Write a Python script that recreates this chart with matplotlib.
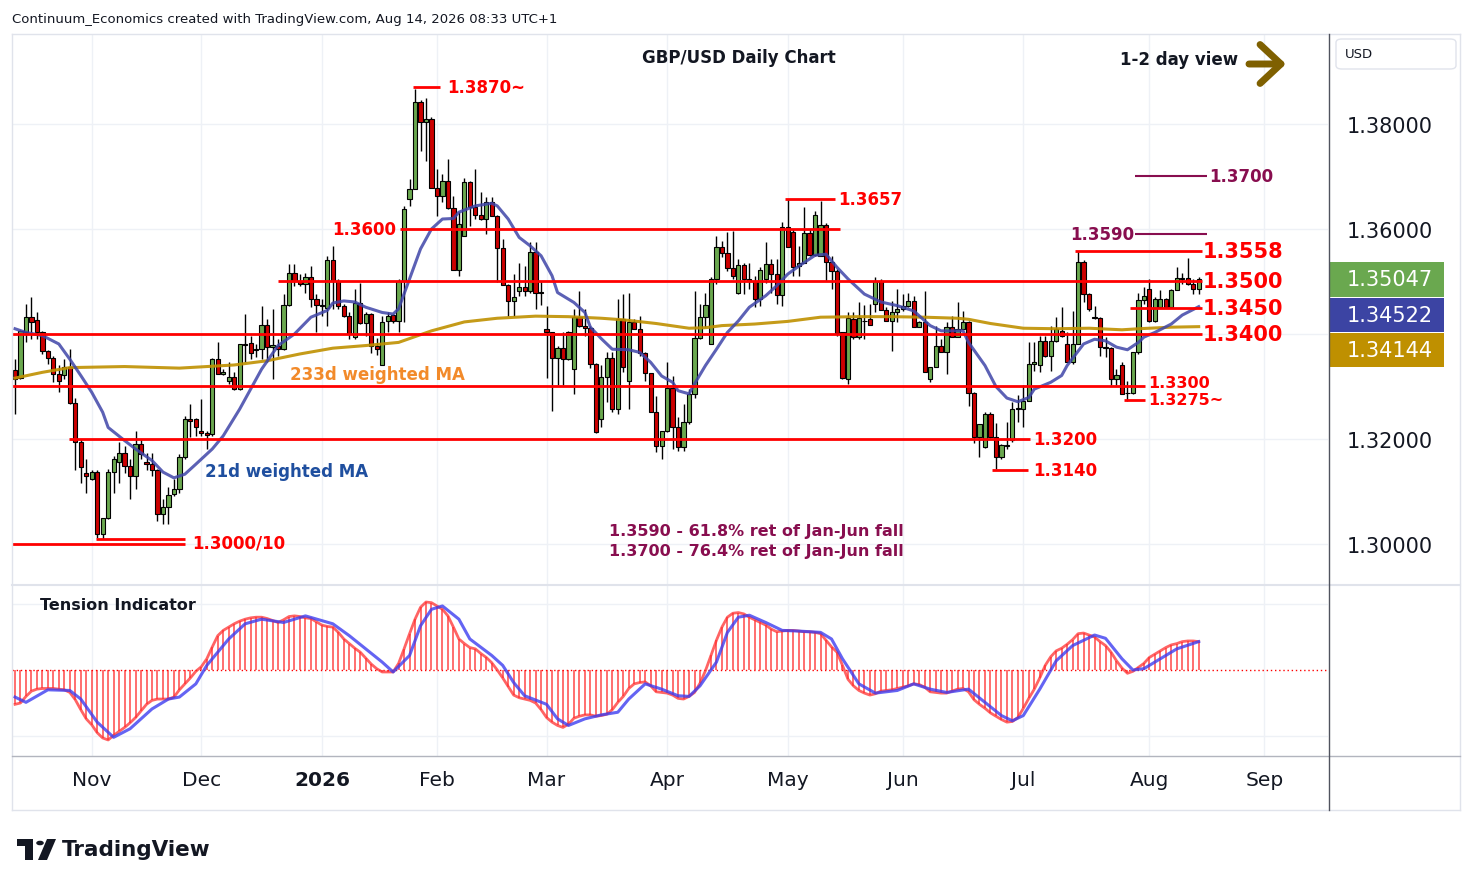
import numpy as np
import pandas as pd
import matplotlib
matplotlib.use('Agg')
import matplotlib.pyplot as plt
from matplotlib.patches import Rectangle, FancyBboxPatch, Circle, Polygon
from matplotlib.lines import Line2D

W, H = 1474, 887

# FX daily calendar (no bars on Dec 25 / Jan 1)
days = pd.bdate_range('2025-10-14', '2026-09-30')
days = days[~days.isin(pd.to_datetime(['2025-12-25', '2026-01-01']))]

opens = [1.3331, 1.3316, 1.3403, 1.3432, 1.3427, 1.3403, 1.3367, 1.3354, 1.3324, 1.3321,
         1.3337, 1.3269, 1.3194, 1.3135, 1.3124, 1.3138, 1.3019, 1.3049, 1.3138, 1.3156,
         1.3173, 1.3148, 1.3130, 1.3190, 1.3157, 1.3152, 1.3140, 1.3057, 1.3070, 1.3095,
         1.3105, 1.3165, 1.3238, 1.3238, 1.3216, 1.3212, 1.3209, 1.3352, 1.3323, 1.3311,
         1.3319, 1.3295, 1.3380, 1.3382, 1.3372, 1.3371, 1.3418, 1.3375, 1.3378, 1.3371,
         1.3456, 1.3516, 1.3501, 1.3495, 1.3508, 1.3467, 1.3456, 1.3449, 1.3540, 1.3500,
         1.3454, 1.3434, 1.3394, 1.3459, 1.3420, 1.3438, 1.3378, 1.3341, 1.3424, 1.3436,
         1.3424, 1.3500, 1.3657, 1.3676, 1.3841, 1.3803, 1.3810, 1.3679, 1.3662, 1.3692,
         1.3640, 1.3522, 1.3586, 1.3689, 1.3641, 1.3627, 1.3619, 1.3651, 1.3625, 1.3563,
         1.3494, 1.3462, 1.3482, 1.3490, 1.3482, 1.3557, 1.3480, 1.3410, 1.3403, 1.3354,
         1.3373, 1.3352, 1.3333, 1.3432, 1.3416, 1.3411, 1.3343, 1.3238, 1.3319, 1.3354,
         1.3257, 1.3429, 1.3311, 1.3422, 1.3410, 1.3363, 1.3326, 1.3251, 1.3187, 1.3216,
         1.3298, 1.3222, 1.3184, 1.3232, 1.3286, 1.3392, 1.3432, 1.3381, 1.3505, 1.3565,
         1.3555, 1.3525, 1.3479, 1.3531, 1.3505, 1.3501, 1.3467, 1.3505, 1.3533, 1.3515,
         1.3474, 1.3603, 1.3594, 1.3529, 1.3536, 1.3592, 1.3550, 1.3549, 1.3608, 1.3538,
         1.3520, 1.3403, 1.3315, 1.3429, 1.3394, 1.3425, 1.3429, 1.3457, 1.3501, 1.3446,
         1.3425, 1.3442, 1.3447, 1.3454, 1.3463, 1.3414, 1.3422, 1.3315, 1.3337, 1.3378,
         1.3366, 1.3414, 1.3394, 1.3410, 1.3423, 1.3287, 1.3203, 1.3184, 1.3247, 1.3203,
         1.3165, 1.3187, 1.3199, 1.3257, 1.3257, 1.3273, 1.3343, 1.3340, 1.3387, 1.3359,
         1.3387, 1.3406, 1.3381, 1.3346, 1.3381, 1.3538, 1.3476, 1.3432, 1.3430, 1.3375,
         1.3373, 1.3314, 1.3340, 1.3288, 1.3288, 1.3365, 1.3465, 1.3486, 1.3425, 1.3452,
         1.3467, 1.3452, 1.3484, 1.3506, 1.3506, 1.3495, 1.3486]
highs = [1.3352, 1.3408, 1.3457, 1.3470, 1.3441, 1.3405, 1.3369, 1.3359, 1.3340, 1.3352,
         1.3371, 1.3279, 1.3200, 1.3162, 1.3140, 1.3140, 1.3049, 1.3143, 1.3168, 1.3194,
         1.3187, 1.3162, 1.3216, 1.3200, 1.3174, 1.3174, 1.3142, 1.3086, 1.3108, 1.3124,
         1.3171, 1.3244, 1.3266, 1.3240, 1.3276, 1.3215, 1.3355, 1.3384, 1.3333, 1.3346,
         1.3327, 1.3381, 1.3438, 1.3397, 1.3381, 1.3454, 1.3429, 1.3448, 1.3390, 1.3476,
         1.3533, 1.3533, 1.3514, 1.3517, 1.3530, 1.3476, 1.3467, 1.3549, 1.3568, 1.3505,
         1.3457, 1.3441, 1.3486, 1.3497, 1.3441, 1.3440, 1.3392, 1.3435, 1.3441, 1.3438,
         1.3505, 1.3644, 1.3695, 1.3867, 1.3845, 1.3849, 1.3813, 1.3714, 1.3705, 1.3733,
         1.3663, 1.3632, 1.3698, 1.3692, 1.3714, 1.3670, 1.3660, 1.3660, 1.3627, 1.3581,
         1.3495, 1.3514, 1.3536, 1.3530, 1.3575, 1.3575, 1.3500, 1.3454, 1.3403, 1.3378,
         1.3403, 1.3405, 1.3448, 1.3482, 1.3448, 1.3416, 1.3345, 1.3340, 1.3365, 1.3365,
         1.3467, 1.3476, 1.3479, 1.3429, 1.3435, 1.3365, 1.3326, 1.3282, 1.3216, 1.3346,
         1.3320, 1.3241, 1.3267, 1.3295, 1.3482, 1.3457, 1.3479, 1.3508, 1.3587, 1.3578,
         1.3594, 1.3597, 1.3543, 1.3536, 1.3535, 1.3511, 1.3527, 1.3576, 1.3543, 1.3543,
         1.3613, 1.3657, 1.3600, 1.3568, 1.3641, 1.3600, 1.3635, 1.3653, 1.3612, 1.3549,
         1.3523, 1.3403, 1.3441, 1.3441, 1.3461, 1.3455, 1.3457, 1.3508, 1.3505, 1.3451,
         1.3463, 1.3486, 1.3476, 1.3479, 1.3472, 1.3424, 1.3482, 1.3338, 1.3416, 1.3390,
         1.3422, 1.3435, 1.3460, 1.3444, 1.3425, 1.3289, 1.3229, 1.3251, 1.3251, 1.3230,
         1.3190, 1.3232, 1.3270, 1.3283, 1.3302, 1.3384, 1.3384, 1.3397, 1.3397, 1.3416,
         1.3432, 1.3451, 1.3403, 1.3444, 1.3559, 1.3540, 1.3478, 1.3454, 1.3432, 1.3394,
         1.3375, 1.3333, 1.3346, 1.3311, 1.3365, 1.3479, 1.3489, 1.3505, 1.3470, 1.3484,
         1.3468, 1.3486, 1.3528, 1.3516, 1.3544, 1.3505, 1.3508]
lows = [1.3248, 1.3314, 1.3384, 1.3390, 1.3390, 1.3362, 1.3343, 1.3308, 1.3289, 1.3314,
        1.3267, 1.3140, 1.3117, 1.3098, 1.3122, 1.3012, 1.3010, 1.3048, 1.3098, 1.3117,
        1.3136, 1.3086, 1.3105, 1.3162, 1.3140, 1.3130, 1.3044, 1.3038, 1.3038, 1.3092,
        1.3098, 1.3162, 1.3203, 1.3206, 1.3206, 1.3181, 1.3206, 1.3324, 1.3321, 1.3305,
        1.3294, 1.3294, 1.3346, 1.3352, 1.3356, 1.3352, 1.3346, 1.3314, 1.3359, 1.3370,
        1.3454, 1.3492, 1.3492, 1.3479, 1.3451, 1.3403, 1.3435, 1.3416, 1.3448, 1.3448,
        1.3432, 1.3390, 1.3390, 1.3419, 1.3397, 1.3364, 1.3360, 1.3340, 1.3403, 1.3420,
        1.3403, 1.3422, 1.3644, 1.3676, 1.3749, 1.3730, 1.3679, 1.3625, 1.3651, 1.3638,
        1.3521, 1.3511, 1.3586, 1.3606, 1.3619, 1.3617, 1.3590, 1.3624, 1.3499, 1.3493,
        1.3435, 1.3435, 1.3473, 1.3473, 1.3479, 1.3448, 1.3456, 1.3317, 1.3254, 1.3302,
        1.3302, 1.3350, 1.3286, 1.3413, 1.3397, 1.3336, 1.3211, 1.3222, 1.3270, 1.3251,
        1.3247, 1.3327, 1.3257, 1.3410, 1.3359, 1.3311, 1.3251, 1.3176, 1.3162, 1.3214,
        1.3181, 1.3178, 1.3178, 1.3228, 1.3279, 1.3390, 1.3413, 1.3381, 1.3495, 1.3546,
        1.3520, 1.3505, 1.3476, 1.3476, 1.3486, 1.3451, 1.3454, 1.3498, 1.3479, 1.3457,
        1.3454, 1.3565, 1.3511, 1.3511, 1.3536, 1.3549, 1.3549, 1.3549, 1.3501, 1.3486,
        1.3396, 1.3314, 1.3305, 1.3390, 1.3390, 1.3390, 1.3418, 1.3441, 1.3445, 1.3425,
        1.3368, 1.3422, 1.3444, 1.3451, 1.3414, 1.3413, 1.3328, 1.3308, 1.3337, 1.3365,
        1.3324, 1.3394, 1.3394, 1.3410, 1.3263, 1.3193, 1.3165, 1.3183, 1.3201, 1.3142,
        1.3162, 1.3181, 1.3194, 1.3232, 1.3222, 1.3273, 1.3330, 1.3327, 1.3357, 1.3330,
        1.3384, 1.3394, 1.3346, 1.3343, 1.3381, 1.3460, 1.3444, 1.3429, 1.3359, 1.3357,
        1.3302, 1.3302, 1.3286, 1.3273, 1.3286, 1.3362, 1.3457, 1.3422, 1.3423, 1.3452,
        1.3451, 1.3451, 1.3484, 1.3495, 1.3494, 1.3476, 1.3476]
closes = [1.3314, 1.3406, 1.3432, 1.3422, 1.3403, 1.3367, 1.3354, 1.3324, 1.3310, 1.3337,
          1.3269, 1.3194, 1.3147, 1.3130, 1.3138, 1.3019, 1.3049, 1.3138, 1.3162, 1.3173,
          1.3148, 1.3130, 1.3190, 1.3171, 1.3152, 1.3140, 1.3057, 1.3070, 1.3093, 1.3105,
          1.3165, 1.3238, 1.3235, 1.3223, 1.3211, 1.3208, 1.3352, 1.3324, 1.3328, 1.3319,
          1.3295, 1.3380, 1.3379, 1.3363, 1.3370, 1.3418, 1.3376, 1.3379, 1.3371, 1.3456,
          1.3516, 1.3501, 1.3495, 1.3508, 1.3467, 1.3455, 1.3454, 1.3540, 1.3500, 1.3454,
          1.3434, 1.3400, 1.3459, 1.3420, 1.3438, 1.3378, 1.3372, 1.3422, 1.3435, 1.3424,
          1.3500, 1.3638, 1.3676, 1.3841, 1.3803, 1.3810, 1.3679, 1.3662, 1.3692, 1.3640,
          1.3522, 1.3609, 1.3689, 1.3641, 1.3627, 1.3619, 1.3651, 1.3625, 1.3563, 1.3494,
          1.3462, 1.3470, 1.3490, 1.3482, 1.3557, 1.3479, 1.3479, 1.3403, 1.3354, 1.3373,
          1.3352, 1.3403, 1.3432, 1.3416, 1.3411, 1.3343, 1.3213, 1.3319, 1.3354, 1.3257,
          1.3429, 1.3338, 1.3422, 1.3410, 1.3363, 1.3326, 1.3251, 1.3187, 1.3216, 1.3298,
          1.3222, 1.3184, 1.3232, 1.3286, 1.3392, 1.3432, 1.3455, 1.3505, 1.3565, 1.3555,
          1.3525, 1.3510, 1.3531, 1.3505, 1.3501, 1.3467, 1.3521, 1.3533, 1.3515, 1.3474,
          1.3603, 1.3565, 1.3528, 1.3536, 1.3592, 1.3550, 1.3627, 1.3608, 1.3538, 1.3520,
          1.3401, 1.3317, 1.3430, 1.3394, 1.3430, 1.3424, 1.3418, 1.3501, 1.3446, 1.3425,
          1.3442, 1.3447, 1.3453, 1.3463, 1.3414, 1.3422, 1.3328, 1.3337, 1.3378, 1.3366,
          1.3414, 1.3394, 1.3410, 1.3423, 1.3287, 1.3203, 1.3229, 1.3247, 1.3203, 1.3165,
          1.3189, 1.3189, 1.3257, 1.3259, 1.3273, 1.3343, 1.3346, 1.3387, 1.3359, 1.3386,
          1.3410, 1.3397, 1.3346, 1.3381, 1.3538, 1.3476, 1.3448, 1.3430, 1.3375, 1.3374,
          1.3314, 1.3321, 1.3286, 1.3287, 1.3365, 1.3465, 1.3473, 1.3425, 1.3467, 1.3467,
          1.3452, 1.3484, 1.3506, 1.3505, 1.3495, 1.3486, 1.3505]

# 21d weighted MA (blue) and 233d weighted MA (gold)
ma21_bars = [0, 2, 5, 8, 10, 12, 14, 16, 17, 20, 22, 25, 27, 29, 31, 33, 36, 38, 41, 45,
             48, 51, 54, 57, 58, 60, 62, 64, 67, 69, 70, 72, 74, 76, 78, 80, 81, 84, 87, 88,
             90, 92, 94, 96, 98, 99, 102, 104, 105, 107, 109, 112, 114, 116, 118, 120, 121, 123, 124, 126,
             128, 130, 132, 134, 137, 139, 141, 143, 144, 146, 148, 150, 152, 155, 158, 161, 164, 167, 169, 173,
             174, 177, 179, 181, 183, 185, 186, 189, 191, 192, 195, 197, 199, 201, 203, 205, 206, 208, 211, 213,
             216]
ma21_vals = [1.3410, 1.3403, 1.3397, 1.3381, 1.3352, 1.3321, 1.3289, 1.3251, 1.3222, 1.3197,
             1.3181, 1.3159, 1.3137, 1.3126, 1.3133, 1.3152, 1.3181, 1.3206, 1.3257, 1.3333,
             1.3378, 1.3400, 1.3432, 1.3445, 1.3459, 1.3463, 1.3461, 1.3451, 1.3441, 1.3438,
             1.3448, 1.3505, 1.3562, 1.3600, 1.3619, 1.3620, 1.3632, 1.3644, 1.3649, 1.3644,
             1.3619, 1.3584, 1.3568, 1.3549, 1.3511, 1.3479, 1.3460, 1.3441, 1.3413, 1.3391,
             1.3371, 1.3370, 1.3365, 1.3346, 1.3320, 1.3308, 1.3292, 1.3286, 1.3305, 1.3340,
             1.3371, 1.3403, 1.3425, 1.3451, 1.3473, 1.3492, 1.3514, 1.3529, 1.3536, 1.3550,
             1.3552, 1.3527, 1.3505, 1.3476, 1.3461, 1.3454, 1.3444, 1.3416, 1.3406, 1.3406,
             1.3384, 1.3340, 1.3300, 1.3278, 1.3271, 1.3279, 1.3295, 1.3308, 1.3321, 1.3340,
             1.3381, 1.3390, 1.3387, 1.3375, 1.3370, 1.3384, 1.3394, 1.3403, 1.3419, 1.3436,
             1.3452]
ma233_bars = [0, 5, 10, 20, 30, 40, 46, 52, 58, 64, 70, 76, 82, 88, 95, 101, 107, 111, 117, 123,
              126, 129, 135, 141, 147, 154, 160, 166, 172, 174, 178, 184, 190, 196, 202, 205, 211, 216]
ma233_vals = [1.3316, 1.3327, 1.3336, 1.3338, 1.3335, 1.3341, 1.3349, 1.3362, 1.3373, 1.3378,
              1.3384, 1.3406, 1.3423, 1.3430, 1.3434, 1.3433, 1.3430, 1.3427, 1.3420, 1.3411,
              1.3412, 1.3416, 1.3419, 1.3424, 1.3432, 1.3433, 1.3433, 1.3432, 1.3430, 1.3428,
              1.3420, 1.3411, 1.3410, 1.3411, 1.3408, 1.3410, 1.3413, 1.3414]

# Tension indicator (red, one value per bar) and its signal line (blue)
tension = [-0.52, -0.50, -0.40, -0.32, -0.29, -0.28, -0.28, -0.28, -0.29, -0.30,
           -0.34, -0.45, -0.60, -0.74, -0.83, -0.95, -1.03, -1.06, -0.99, -0.93,
           -0.87, -0.80, -0.72, -0.62, -0.52, -0.46, -0.44, -0.44, -0.44, -0.41,
           -0.30, -0.21, -0.12, -0.02, 0.05, 0.17, 0.35, 0.52, 0.60, 0.65,
           0.70, 0.74, 0.77, 0.79, 0.80, 0.80, 0.78, 0.75, 0.72, 0.76,
           0.81, 0.82, 0.81, 0.79, 0.78, 0.73, 0.68, 0.66, 0.65, 0.57,
           0.47, 0.40, 0.33, 0.27, 0.18, 0.09, 0.02, -0.03, -0.03, -0.03,
           0.10, 0.32, 0.55, 0.77, 0.95, 1.03, 1.02, 0.97, 0.92, 0.82,
           0.65, 0.47, 0.40, 0.34, 0.32, 0.25, 0.19, 0.11, 0.00, -0.12,
           -0.25, -0.38, -0.42, -0.44, -0.46, -0.50, -0.60, -0.72, -0.79, -0.84,
           -0.87, -0.82, -0.73, -0.70, -0.68, -0.68, -0.70, -0.69, -0.67, -0.60,
           -0.49, -0.40, -0.28, -0.21, -0.19, -0.18, -0.24, -0.33, -0.34, -0.35,
           -0.38, -0.43, -0.44, -0.40, -0.34, -0.20, -0.01, 0.22, 0.45, 0.65,
           0.80, 0.86, 0.87, 0.85, 0.80, 0.76, 0.72, 0.68, 0.62, 0.58,
           0.59, 0.60, 0.60, 0.59, 0.58, 0.58, 0.57, 0.55, 0.45, 0.35,
           0.27, 0.07, -0.14, -0.24, -0.31, -0.35, -0.38, -0.36, -0.32, -0.31,
           -0.30, -0.28, -0.26, -0.24, -0.21, -0.22, -0.26, -0.33, -0.34, -0.35,
           -0.35, -0.32, -0.29, -0.28, -0.33, -0.45, -0.52, -0.58, -0.65, -0.70,
           -0.75, -0.79, -0.78, -0.72, -0.58, -0.43, -0.29, -0.12, 0.07, 0.20,
           0.29, 0.33, 0.39, 0.46, 0.55, 0.56, 0.53, 0.50, 0.43, 0.37,
           0.27, 0.14, 0.03, -0.05, -0.02, 0.04, 0.10, 0.19, 0.24, 0.29,
           0.34, 0.38, 0.40, 0.43, 0.44, 0.44, 0.43]
sig_bars = [0, 2, 6, 10, 12, 15, 18, 21, 25, 28, 30, 33, 35, 39, 42, 45, 49, 53, 58, 61,
            64, 67, 69, 72, 74, 76, 78, 81, 83, 87, 89, 91, 93, 97, 99, 101, 104, 107, 110, 112,
            115, 118, 121, 123, 125, 128, 130, 132, 134, 137, 140, 143, 147, 149, 151, 154, 157, 161, 164, 167,
            170, 174, 177, 180, 182, 184, 187, 190, 193, 197, 199, 202, 204, 206, 209, 212, 216]
sig_vals = [-0.41, -0.49, -0.30, -0.31, -0.44, -0.79, -1.02, -0.89, -0.59, -0.44,
            -0.41, -0.21, 0.07, 0.47, 0.70, 0.77, 0.72, 0.82, 0.70, 0.52,
            0.32, 0.12, -0.03, 0.22, 0.67, 0.92, 0.97, 0.77, 0.47, 0.22,
            0.07, -0.19, -0.39, -0.52, -0.74, -0.84, -0.74, -0.68, -0.64, -0.44,
            -0.21, -0.29, -0.39, -0.40, -0.24, 0.12, 0.57, 0.80, 0.83, 0.72,
            0.60, 0.59, 0.57, 0.47, 0.17, -0.21, -0.35, -0.31, -0.21, -0.29,
            -0.34, -0.29, -0.49, -0.69, -0.77, -0.69, -0.29, 0.14, 0.37, 0.53,
            0.48, 0.17, 0.00, 0.02, 0.17, 0.32, 0.43]

# key levels: (price, first bar, last bar)
red_levels = [(1.3870, 72.6, 77.6), (1.3657, 140.5, 149.6), (1.3600, 70.2, 150.5),
              (1.3558, 193.4, 216.6), (1.3500, 48.0, 216.6), (1.3450, 203.5, 216.6),
              (1.3400, -0.6, 216.6), (1.3300, -0.6, 206.2), (1.3275, 202.4, 206.2),
              (1.3200, 9.9, 185.2), (1.3140, 178.3, 184.9), (1.3010, 14.8, 31.0),
              (1.3000, -0.6, 31.0)]
fib_levels = [(1.3590, 204.4, 217.6), (1.3700, 204.4, 217.6)]

month_starts = ['2025-11', '2025-12', '2026-01', '2026-02', '2026-03', '2026-04',
                '2026-05', '2026-06', '2026-07', '2026-08', '2026-09']
month_labels = ['Nov', 'Dec', '2026', 'Feb', 'Mar', 'Apr', 'May', 'Jun', 'Jul', 'Aug', 'Sep']


def fx(px):
    return px / W


def fy(py):
    return 1 - py / H


def bx(px):
    # pixel column -> bar index (bar 0 at px 15, 5.48 px per bar)
    return (px - 15) / 5.48


def py2price(py):
    return 1.38 - (py - 125) / 5250.0


ym = days.strftime('%Y-%m')
tick_bars = [int(np.argmax(ym == m)) for m in month_starts]

fig = plt.figure(figsize=(W / 100, H / 100), dpi=100)
fig.patch.set_facecolor('white')

ax = fig.add_axes([fx(12), fy(585), (1328 - 12) / W, (585 - 35) / H])
ax2 = fig.add_axes([fx(12), fy(757), (1328 - 12) / W, (757 - 587) / H])

xlo, xhi = bx(12), bx(1328)
for a in (ax, ax2):
    a.set_xlim(xlo, xhi)
    a.set_xticks(tick_bars)
    for s in a.spines.values():
        s.set_visible(False)
    a.grid(True, color='#eef1f6', lw=1, zorder=0)

ax.set_ylim(py2price(585), py2price(35))
ax.set_yticks([1.30, 1.32, 1.34, 1.36, 1.38])
ax.yaxis.tick_right()
ax.set_yticklabels(['1.30000', '1.32000', '', '1.36000', '1.38000'])
ax.tick_params(axis='y', length=0, pad=13.5, labelsize=15, labelcolor='#131722')
ax.tick_params(axis='x', length=0, labelbottom=False)

# candles
o, h, l, c = map(np.array, (opens, highs, lows, closes))
idx = np.arange(len(c))
up = c >= o
ax.vlines(idx, l, h, color='black', lw=1, zorder=3)
ax.bar(idx[up], np.maximum((c - o)[up], 0.00003), bottom=o[up], width=0.78,
       color='#6aa84f', edgecolor='black', lw=0.8, zorder=4)
ax.bar(idx[~up], np.maximum((o - c)[~up], 0.00003), bottom=c[~up], width=0.78,
       color='#cc0000', edgecolor='black', lw=0.8, zorder=4)

# moving averages
ax.plot(ma233_bars, ma233_vals, color='#bf9000', lw=2.2, alpha=0.9, zorder=5)
ax.plot(ma21_bars, ma21_vals, color='#3f45a8', lw=2.2, alpha=0.85, zorder=5)

# levels
for p, b0, b1 in red_levels:
    ax.plot([b0, b1], [p, p], color='#ff0000', lw=2, zorder=6, solid_capstyle='butt')
for p, b0, b1 in fib_levels:
    ax.plot([b0, b1], [p, p], color='#880e4f', lw=1.5, zorder=6, solid_capstyle='butt')

red = '#ff0000'
purple = '#880e4f'
small = dict(fontsize=12, fontweight='bold', va='center', zorder=7)
big = dict(fontsize=15, fontweight='bold', va='center', zorder=7, color=red)
ax.text(bx(447), 1.3870, '1.3870~', color=red, **small)
ax.text(bx(838), 1.3657, '1.3657', color=red, **small)
ax.text(bx(396), 1.3600, '1.3600', color=red, ha='right', **small)
ax.text(bx(1148), py2price(384), '1.3300', color=red, fontsize=11.5, fontweight='bold',
        va='center', zorder=7)
ax.text(bx(1148), py2price(401), '1.3275~', color=red, fontsize=11.5, fontweight='bold',
        va='center', zorder=7)
ax.text(bx(1033), 1.3200, '1.3200', color=red, **small)
ax.text(bx(1033), 1.3140, '1.3140', color=red, **small)
ax.text(bx(192), 1.3003, '1.3000/10', color=red, **small)
for p in (1.3558, 1.3500, 1.3450, 1.3400):
    ax.text(bx(1203), p, '%.4f' % p, **big)
ax.text(bx(1134), 1.3590, '1.3590', color=purple, ha='right', **small)
ax.text(bx(1209), 1.3700, '1.3700', color=purple, **small)

ax.text(bx(290), py2price(375), '233d weighted MA', color='#f28a2a', fontsize=12,
        fontweight='bold', va='center', zorder=7)
ax.text(bx(205), py2price(472), '21d weighted MA', color='#1f4f9f', fontsize=12,
        fontweight='bold', va='center', zorder=7)
ax.text(bx(609), py2price(532), '1.3590 - 61.8% ret of Jan-Jun fall', color=purple,
        fontsize=11.5, fontweight='bold', va='center', zorder=7)
ax.text(bx(609), py2price(552), '1.3700 - 76.4% ret of Jan-Jun fall', color=purple,
        fontsize=11.5, fontweight='bold', va='center', zorder=7)

# tension pane
ax2.set_ylim((671 - 757) / 66.0, (671 - 587) / 66.0)
ax2.set_yticks([-1, 1])
ax2.tick_params(axis='y', length=0, labelright=False, labelleft=False)
ax2.tick_params(axis='x', length=0, pad=10, labelsize=14.5, labelcolor='#131722')
ax2.set_xticklabels(month_labels)
for t in ax2.get_xticklabels():
    if t.get_text() == '2026':
        t.set_fontweight('bold')
tb = np.arange(len(tension))
ax2.vlines(tb, 0, tension, color='#ff5252', lw=1.3, alpha=0.9, zorder=2)
ax2.axhline(0, color='#ff0000', lw=1, ls=(0, (1, 2)), zorder=2)
ax2.plot(tb, tension, color='#ff3030', lw=2, alpha=0.75, zorder=3)
ax2.plot(sig_bars, sig_vals, color='#3d3df0', lw=2.2, alpha=0.8, zorder=4)
ax2.text(0.021, 0.89, 'Tension Indicator', transform=ax2.transAxes, fontsize=11.5,
         fontweight='bold', color='#131722', va='center')

# frame
def hline(y, x0, x1, color, lw=1):
    fig.add_artist(Line2D([fx(x0), fx(x1)], [fy(y), fy(y)], transform=fig.transFigure,
                          color=color, lw=lw))


def vline(x, y0, y1, color, lw=1):
    fig.add_artist(Line2D([fx(x), fx(x)], [fy(y0), fy(y1)], transform=fig.transFigure,
                          color=color, lw=lw))


frame = '#e0e3eb'
hline(35, 12, 1460, frame)
hline(811, 12, 1460, frame)
vline(12, 35, 811, frame)
vline(1460, 35, 811, frame)
hline(586, 12, 1460, frame, 1.5)
hline(757, 12, 1460, '#b2b5be')
vline(1329, 35, 811, '#50535e')

# header / title
fig.text(fx(12), fy(19), 'Continuum_Economics created with TradingView.com, Aug 14, 2026 08:33 UTC+1',
         fontsize=9.5, color='#131722', va='center')
fig.text(fx(739), fy(58), 'GBP/USD Daily Chart', fontsize=12, fontweight='bold',
         color='#131722', ha='center', va='center')
fig.text(fx(1120), fy(60), '1-2 day view', fontsize=12, fontweight='bold',
         color='#131722', va='center')
ax.annotate('', xy=(fx(1286), fy(65)), xytext=(fx(1249), fy(65)),
            xycoords='figure fraction', textcoords='figure fraction',
            arrowprops=dict(arrowstyle='->,head_length=0.75,head_width=0.7', lw=5,
                            color='#7f6000', mutation_scale=20, shrinkA=0, shrinkB=0,
                            capstyle='round', joinstyle='round'),
            annotation_clip=False)

# price scale box and last value tags
fig.add_artist(FancyBboxPatch((fx(1336), fy(70)), (1456 - 1336) / W, (70 - 40) / H,
                              boxstyle='round,pad=0,rounding_size=0.004',
                              transform=fig.transFigure, facecolor='white',
                              edgecolor=frame, lw=1))
fig.text(fx(1345), fy(55), 'USD', fontsize=9.5, color='#131722', va='center')
tags = [('1.35047', '#6aa84f', 263, 298), ('1.34522', '#3c44a3', 299, 333),
        ('1.34144', '#bf9000', 334, 368)]
for txt, col, y0, y1 in tags:
    fig.add_artist(Rectangle((fx(1330), fy(y1)), (1444 - 1330) / W, (y1 - y0) / H,
                             transform=fig.transFigure, facecolor=col, edgecolor='none'))
    fig.text(fx(1347), fy((y0 + y1) / 2), txt, fontsize=15, color='white', va='center')

# TradingView logo
fig.add_artist(Rectangle((fx(17), fy(847)), 16 / W, 7 / H, transform=fig.transFigure,
                         facecolor='#131722', edgecolor='none'))
fig.add_artist(Rectangle((fx(25), fy(861)), 8 / W, 21 / H, transform=fig.transFigure,
                         facecolor='#131722', edgecolor='none'))
fig.add_artist(Circle((fx(40), fy(844)), 3.8 / W, transform=fig.transFigure,
                      facecolor='#131722', edgecolor='none'))
fig.add_artist(Polygon([(fx(38), fy(861)), (fx(47), fy(840)), (fx(56), fy(840)), (fx(47), fy(861))],
                       closed=True, transform=fig.transFigure, facecolor='#131722', edgecolor='none'))
fig.text(fx(62), fy(850), 'TradingView', fontsize=15.5, fontweight='bold', color='#131722',
         va='center')

fig.savefig('out.png', dpi=100)
